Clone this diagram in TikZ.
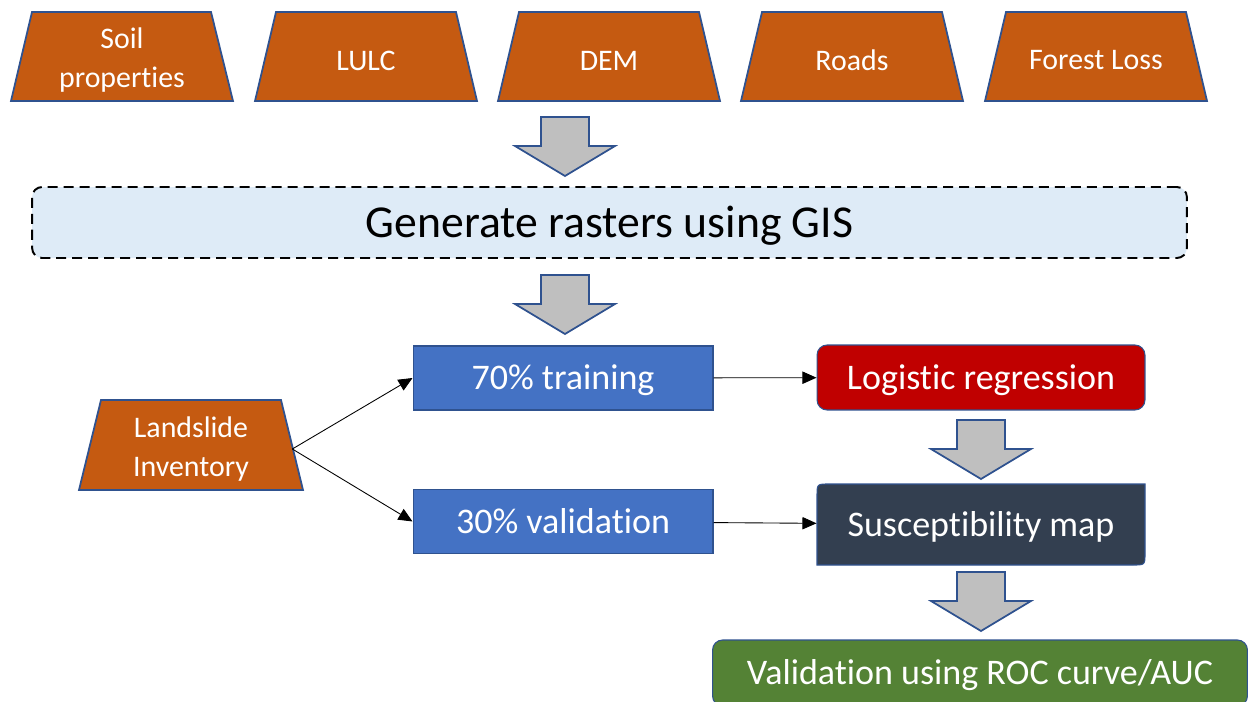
\documentclass[tikz,border=0pt]{standalone}
\usepackage{fontspec}
\setmainfont{Carlito}[Ligatures=CommonOff]
\usetikzlibrary{arrows.meta}

\definecolor{rust}{HTML}{C55A11}
\definecolor{edgeblue}{HTML}{2F528F}
\definecolor{boxblue}{HTML}{4472C4}
\definecolor{darkred}{HTML}{C00000}
\definecolor{slate}{HTML}{333F50}
\definecolor{leaf}{HTML}{548235}
\definecolor{paleblue}{HTML}{DEEBF7}
\definecolor{arrowgray}{HTML}{BFBFBF}

\tikzset{
  layer/.style={fill=rust, draw=edgeblue, line width=1pt},
  layertext/.style={text=white, font=\fontsize{17}{22}\selectfont, align=center},
  stepbox/.style={draw=edgeblue, line width=0.6pt, text=white, font=\fontsize{20.5}{24}\selectfont,
    text height=13.2pt, text depth=0pt, minimum width=6cm, minimum height=1.28cm},
  link/.style={-{Triangle[length=8pt,width=7pt]}, line width=0.5pt},
  blockarrow/.pic={
    \draw[fill=arrowgray, draw=edgeblue, line width=1pt]
      (-24,0) -- (24,0) -- (24,29) -- (50,29) -- (0,59) -- (-50,29) -- (-24,29) -- cycle;
  }
}

\begin{document}
\begin{tikzpicture}[x=0.02cm, y=-0.02cm]
    \useasboundingbox (0,0) rectangle (1250,702);
    \clip (0,0) rectangle (1250,702);

    % input layers
    \draw[layer] (11,101) -- (32,12) -- (211,12) -- (233,101) -- cycle;
    \draw[layer] (255,101) -- (276,12) -- (456,12) -- (477,101) -- cycle;
    \draw[layer] (498,101) -- (519,12) -- (699,12) -- (720,101) -- cycle;
    \draw[layer] (741,101) -- (762,12) -- (942,12) -- (963,101) -- cycle;
    \draw[layer] (985,101) -- (1006,12) -- (1186,12) -- (1207,101) -- cycle;
    \node[layertext] (soil) at (122,60) {Soil\\properties};
    \node[layertext] (lulc) at (366,60.5) {LULC};
    \node[layertext] (dem) at (609,60.5) {DEM};
    \node[layertext] (roads) at (852,60.5) {Roads};
    \node[layertext] (forest) at (1096,60.5) {Forest Loss};

    \pic at (565,117) {blockarrow};

    \node[draw, dash pattern=on 5.7pt off 3.4pt, line width=1.1pt, rounded corners=0.2cm, fill=paleblue,
          minimum width=23.1cm, minimum height=1.42cm, font=\fontsize{26}{30}\selectfont,
          text height=16.8pt, text depth=0pt]
          (gis) at (609.5,222.5) {Generate rasters using GIS};

    \pic at (565,275) {blockarrow};

    % inventory split
    \draw[layer] (79,490) -- (101,400) -- (281,400) -- (303,490) -- cycle;
    \node[layertext, minimum width=4.04cm] (inventory) at (191,449) {Landslide\\Inventory};

    \node[stepbox, fill=boxblue] (train) at (563,378) {70\% training};
    \node[stepbox, fill=boxblue] (valid) at (563,521.5) {30\% validation};

    % model and outputs
    \node[stepbox, fill=darkred, rounded corners=0.2cm, minimum width=6.56cm, minimum height=1.3cm]
          (logit) at (981,377.5) {Logistic regression};
    \pic at (981,420) {blockarrow};
    \draw[fill=slate, draw=edgeblue, line width=0.6pt] (817,565) -- (817,496) .. controls (817,484) .. (829,484)
          -- (1145,484) -- (1145,553) .. controls (1145,565) .. (1133,565) -- cycle;
    \node[stepbox, draw=none, minimum width=6.56cm, minimum height=1.62cm] (map) at (981,524.5) {Susceptibility map};
    \pic at (981,572) {blockarrow};
    \node[stepbox, fill=leaf, rounded corners=0.2cm, minimum width=10.7cm, minimum height=1.32cm]
          (roc) at (980,673) {Validation using ROC curve/AUC};

    \draw[link] (inventory.east) -- (train.west);
    \draw[link] (inventory.east) -- (valid.west);
    \draw[link] (train) -- (logit);
    \draw[link] (valid) -- (map);
\end{tikzpicture}
\end{document}
